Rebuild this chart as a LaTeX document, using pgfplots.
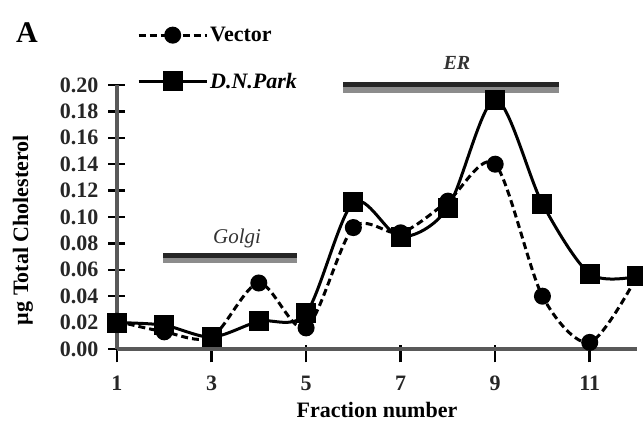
\documentclass[border=0pt]{standalone}
\usepackage{fontspec}
\setmainfont{Liberation Serif}
\usepackage{pgfplots}
\pgfplotsset{compat=1.18}
\newcommand{\bigf}{\fontsize{22}{26}\selectfont}
\begin{document}
\begin{tikzpicture}
\useasboundingbox (-117pt,-78pt) rectangle (526pt,349pt);
\begin{axis}[
  scale only axis, width=520pt, height=264pt,
  xmin=1, xmax=12, ymin=0, ymax=0.2,
  axis x line*=bottom, axis y line*=left,
  axis line style={line width=4pt, black!65},
  xtick={1,3,5,7,9,11},
  ytick={0,0.02,0.04,0.06,0.08,0.10,0.12,0.14,0.16,0.18,0.20},
  tick align=center, major tick length=17pt,
  tick style={black, line width=2.5pt},
  x tick style={yshift=-5pt},
  clip=false,
  /pgf/number format/assume math mode=true,
  ticklabel style={font=\bigf\bfseries, text=black!85},
  yticklabel style={/pgf/number format/fixed, /pgf/number format/fixed zerofill, /pgf/number format/precision=2, anchor=east, inner sep=0pt, xshift=-10pt},
  xticklabel style={anchor=center, yshift=-26pt},
  xlabel={Fraction number}, ylabel={µg Total Cholesterol},
  label style={font=\bigf\bfseries},
  xlabel style={at={(rel axis cs:0.5,0)}, anchor=center, yshift=-61pt},
  ylabel style={at={(rel axis cs:0,0.45)}, anchor=center, yshift=94pt},
  legend style={draw=none, fill=none, at={(rel axis cs:0,1)}, anchor=north west, xshift=20pt, yshift=60pt, font=\bigf\bfseries, row sep=26pt, inner sep=0pt},
  legend cell align=left,
  legend image code/.code={\draw[mark repeat=2, mark phase=2, #1] plot coordinates {(0pt,0pt) (34pt,0pt) (68pt,0pt)};},
]
\fill[black!45] (axis cs:1.98,0.0652) rectangle (axis cs:4.8,0.0727);
\draw[black!85, line width=5pt] (axis cs:1.98,0.0705) -- (axis cs:4.8,0.0705);
\node[font=\fontsize{21}{24}\selectfont\itshape, text=black!80] at (axis cs:3.54,0.084) {Golgi};
\fill[black!45] (axis cs:5.79,0.1939) rectangle (axis cs:10.36,0.2023);
\draw[black!85, line width=5pt] (axis cs:5.79,0.2) -- (axis cs:10.36,0.2);
\node[font=\fontsize{20}{24}\selectfont\itshape\bfseries, text=black!80] at (axis cs:8.19,0.2167) {ER};
\addplot[black, line width=3pt, smooth, dash pattern=on 7pt off 4pt, mark=*, mark size=7pt, mark options={solid}]
  coordinates {(1,0.021)(2,0.013)(3,0.009)(4,0.050)(5,0.016)(6,0.092)(7,0.088)(8,0.112)(9,0.140)(10,0.040)(11,0.005)(12,0.055)};
\addlegendentry{Vector}
\addplot[black, line width=3pt, smooth, mark=square*, mark size=8.5pt, mark options={solid}]
  coordinates {(1,0.020)(2,0.018)(3,0.009)(4,0.021)(5,0.027)(6,0.111)(7,0.085)(8,0.107)(9,0.189)(10,0.110)(11,0.057)(12,0.055)};
\addlegendentry{\itshape D.N.Park}
\end{axis}
\node[font=\fontsize{30}{34}\selectfont\bfseries] at (-90pt,316pt) {A};
\end{tikzpicture}
\end{document}
